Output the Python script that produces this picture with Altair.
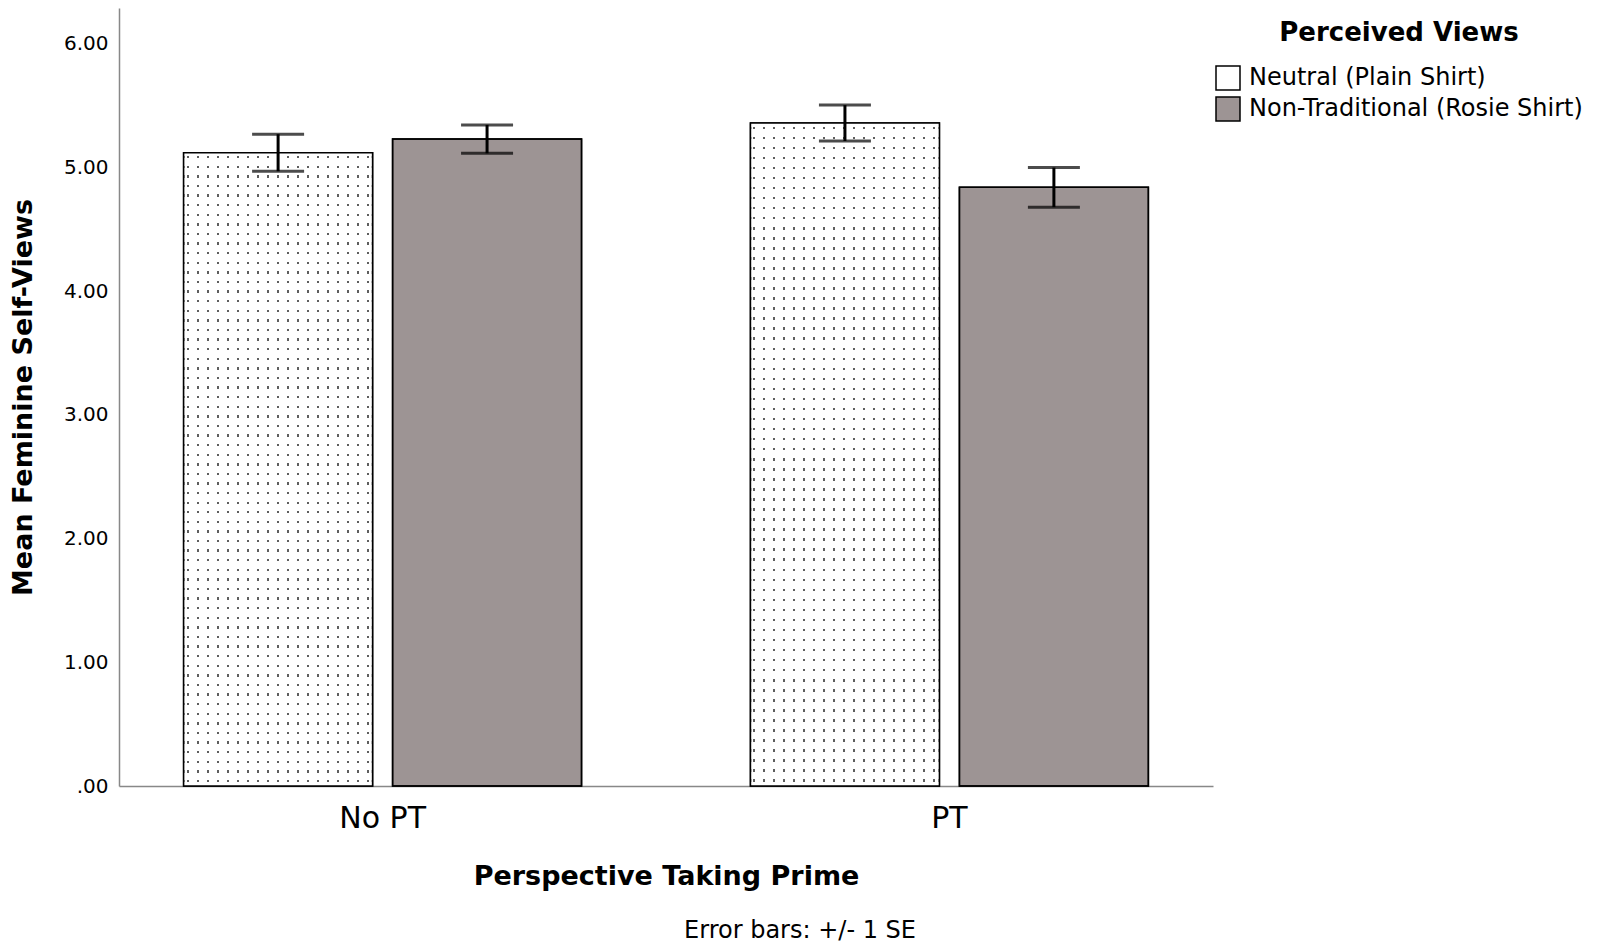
import altair as alt
import pandas as pd

# ---- data ----
conditions = ["No PT", "No PT", "PT", "PT"]
groups = ["Neutral (Plain Shirt)", "Non-Traditional (Rosie Shirt)",
          "Neutral (Plain Shirt)", "Non-Traditional (Rosie Shirt)"]
group_order = ["Neutral (Plain Shirt)", "Non-Traditional (Rosie Shirt)"]
means = [5.12, 5.23, 5.36, 4.84]
ses = [0.15, 0.115, 0.145, 0.16]
y_ticks = [0, 1, 2, 3, 4, 5, 6]

df = pd.DataFrame({"condition": conditions, "group": groups,
                   "mean": means, "se": ses})

FONT = "DejaVu Sans"
GRAY = "#9d9494"
CLEAR = "rgba(255,255,255,0)"

# ---- dotted texture (style only) ----
def vstripes():
    stops = [alt.GradientStop(offset=0, color=CLEAR)]
    w = 2 / 189
    for k in range(19):
        a = (3 + 10 * k) / 189
        stops += [alt.GradientStop(offset=a, color=CLEAR),
                  alt.GradientStop(offset=a, color="#5f5f5f"),
                  alt.GradientStop(offset=min(a + w, 1), color="#5f5f5f"),
                  alt.GradientStop(offset=min(a + w, 1), color=CLEAR)]
    stops.append(alt.GradientStop(offset=1, color=CLEAR))
    return alt.LinearGradient(gradient="linear", stops=stops, x1=0, x2=1, y1=0, y2=0)

def hstripes():
    n = 66
    p = 1 / n
    stops = [alt.GradientStop(offset=0, color="white")]
    for k in range(n):
        a = k * p + 0.35 * p
        b = k * p + 0.6 * p
        stops += [alt.GradientStop(offset=a, color="white"),
                  alt.GradientStop(offset=a, color=CLEAR),
                  alt.GradientStop(offset=b, color=CLEAR),
                  alt.GradientStop(offset=b, color="white")]
    stops.append(alt.GradientStop(offset=1, color="white"))
    return alt.LinearGradient(gradient="linear", stops=stops, x1=0, x2=0, y1=0, y2=1)

x_enc = alt.X("condition:N",
              scale=alt.Scale(paddingInner=0.298, paddingOuter=0.114),
              axis=alt.Axis(title="Perspective Taking Prime", labelAngle=0, ticks=False,
                            labelFontSize=30, labelPadding=17, labelColor="black",
                            titleFontSize=27, titleFontWeight="bold", titleColor="black",
                            titlePadding=30, domainColor="#888888", domainWidth=1.5))
xo_enc = alt.XOffset("group:N", sort=group_order,
                     scale=alt.Scale(domain=group_order, paddingInner=0.0957, paddingOuter=0))
y_scale = alt.Scale(domain=[0, 6.29], nice=False, zero=True)
y_axis = alt.Axis(values=y_ticks, title="Mean Feminine Self-Views",
                  labelExpr="datum.value == 0 ? '.00' : format(datum.value, '.2f')",
                  ticks=False, grid=False, labelFontSize=20, labelPadding=11,
                  labelColor="black", titleFontSize=27, titleFontWeight="bold",
                  titleColor="black", titlePadding=26,
                  domainColor="#888888", domainWidth=1.5)

base = alt.Chart(df).transform_calculate(
    lo="datum.mean - datum.se", hi="datum.mean + datum.se"
).encode(x=x_enc, xOffset=xo_enc)

bars = base.mark_bar(stroke="black", strokeWidth=1.5).encode(
    y=alt.Y("mean:Q", scale=y_scale, axis=y_axis),
    color=alt.Color("group:N",
                    scale=alt.Scale(domain=group_order, range=["white", GRAY]),
                    legend=alt.Legend(title="Perceived Views", orient="none",
                                      legendX=1096, legendY=12, padding=0,
                                      titleFontSize=26, titleFontWeight="bold",
                                      titleColor="black", titleAnchor="middle",
                                      titlePadding=19, titleLimit=600,
                                      labelFontSize=24, labelColor="black",
                                      labelLimit=600, labelOffset=8,
                                      symbolType="square", symbolSize=576,
                                      symbolStrokeColor="black", symbolStrokeWidth=1.5,
                                      rowPadding=1)),
)

neutral = base.transform_filter(alt.datum.group == group_order[0])
dots_v = neutral.mark_bar(fill=vstripes()).encode(
    y=alt.Y("mean:Q", scale=y_scale, axis=y_axis))
dots_h = neutral.mark_bar(fill=hstripes()).encode(
    y=alt.Y("mean:Q", scale=y_scale, axis=y_axis))
outline = base.mark_bar(fillOpacity=0, stroke="black", strokeWidth=1.5).encode(
    y=alt.Y("mean:Q", scale=y_scale, axis=y_axis))

err = base.mark_rule(color="black", strokeWidth=3).encode(
    y=alt.Y("lo:Q", scale=y_scale, axis=y_axis), y2="hi:Q")
cap_lo = base.mark_tick(color="black", size=52, thickness=3).encode(
    y=alt.Y("lo:Q", scale=y_scale, axis=y_axis))
cap_hi = base.mark_tick(color="black", size=52, thickness=3).encode(
    y=alt.Y("hi:Q", scale=y_scale, axis=y_axis))

chart = alt.layer(bars, dots_v, dots_h, outline, err, cap_lo, cap_hi).properties(
    width=1094, height=778,
    autosize=alt.AutoSizeParams(type="none"),
    padding={"left": 111, "top": 0, "right": 380, "bottom": 157},
    title=alt.TitleParams("Error bars: +/- 1 SE", orient="bottom", anchor="middle",
                          frame="group", dx=134, offset=30, fontSize=24,
                          fontWeight="normal", color="black"),
).configure(font=FONT, background="white").configure_view(stroke=None)

chart.save("out.html", embed_options={"renderer": "svg", "actions": False})
